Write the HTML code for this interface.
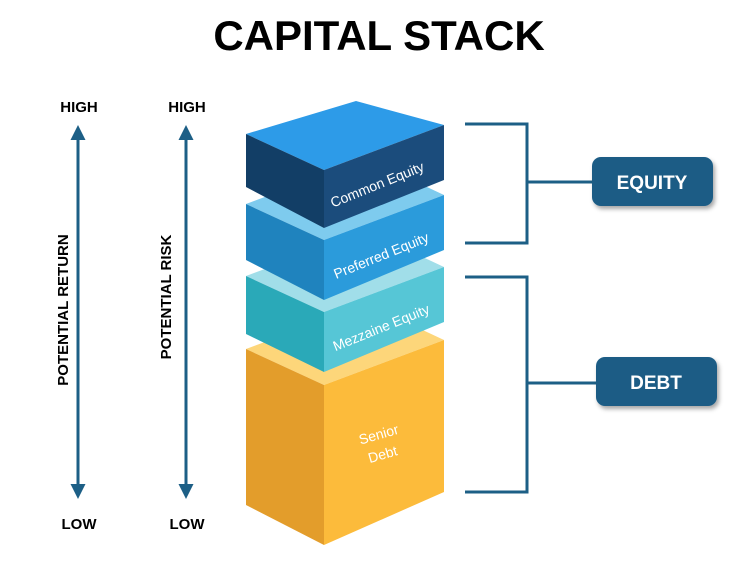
<!DOCTYPE html>
<html><head><meta charset="utf-8"><style>
body{margin:0;background:#fff;width:750px;height:582px;overflow:hidden}
svg{display:block}
text{font-family:"Liberation Sans",sans-serif}
</style></head><body>
<svg width="750" height="582" viewBox="0 0 750 582">
<defs>
<marker id="ah" viewBox="0 0 10 10" refX="8" refY="5" markerWidth="5" markerHeight="5" orient="auto-start-reverse"><path d="M0,0L10,5L0,10z" fill="#1d5f86"/></marker>
<filter id="sh" x="-20%" y="-20%" width="140%" height="150%"><feDropShadow dx="2" dy="3" stdDeviation="2" flood-color="#000" flood-opacity="0.35"/></filter>
</defs>
<text x="379" y="50" text-anchor="middle" font-size="42" font-weight="bold" fill="#000">CAPITAL STACK</text>
<line x1="78" y1="128" x2="78" y2="496" stroke="#1d5f86" stroke-width="3" marker-start="url(#ah)" marker-end="url(#ah)"/>
<line x1="186" y1="128" x2="186" y2="496" stroke="#1d5f86" stroke-width="3" marker-start="url(#ah)" marker-end="url(#ah)"/>
<g font-size="15" font-weight="bold" fill="#000" text-anchor="middle">
<text x="79" y="112">HIGH</text><text x="187" y="112">HIGH</text>
<text x="79" y="529">LOW</text><text x="187" y="529">LOW</text>
<text transform="translate(68,310) rotate(-90)">POTENTIAL RETURN</text>
<text transform="translate(171,297) rotate(-90)">POTENTIAL RISK</text>
</g>
<polygon points="246,349 367,304 444,340 324,385" fill="#fdd67a"/>
<polygon points="246,349 324,385 324,545 246,505" fill="#e39d2b"/>
<polygon points="324,385 444,340 444,492 324,545" fill="#fcbb3b"/>
<polygon points="246,276 367,231 444,267 324,312" fill="#a1dee9"/>
<polygon points="246,276 324,312 324,372 246,334" fill="#2aa9b8"/>
<polygon points="324,312 444,267 444,322 324,372" fill="#56c6d6"/>
<polygon points="246,204 367,159 444,195 324,240" fill="#7ecbee"/>
<polygon points="246,204 324,240 324,300 246,260" fill="#1f83be"/>
<polygon points="324,240 444,195 444,250 324,300" fill="#2b9bdb"/>
<polygon points="246,134 356,101 444,125 324,170" fill="#2d9be8"/>
<polygon points="246,134 324,170 324,228 246,187" fill="#123e66"/>
<polygon points="324,170 444,125 444,180 324,228" fill="#1b4c7c"/>
<g fill="#fff" font-size="14" text-anchor="middle">
<text transform="translate(379,189) rotate(-22)">Common Equity</text>
<text transform="translate(383,260) rotate(-22)">Preferred Equity</text>
<text transform="translate(383,332) rotate(-22)">Mezzaine Equity</text>
<text transform="translate(380,439) rotate(-16)">Senior</text>
<text transform="translate(384,459) rotate(-16)">Debt</text>
</g>
<g stroke="#1d5f86" stroke-width="3" fill="none">
<polyline points="465,124 527,124 527,243 465,243"/>
<line x1="527" y1="182" x2="594" y2="182"/>
<polyline points="465,277 527,277 527,492 465,492"/>
<line x1="527" y1="383" x2="598" y2="383"/>
</g>
<rect x="592" y="157" width="121" height="49" rx="9" fill="#1a5c85" filter="url(#sh)"/>
<rect x="596" y="357" width="121" height="49" rx="9" fill="#1a5c85" filter="url(#sh)"/>
<g fill="#fff" font-size="19" font-weight="bold" text-anchor="middle">
<text x="652" y="189">EQUITY</text><text x="656" y="389">DEBT</text>
</g>
</svg>
</body></html>
